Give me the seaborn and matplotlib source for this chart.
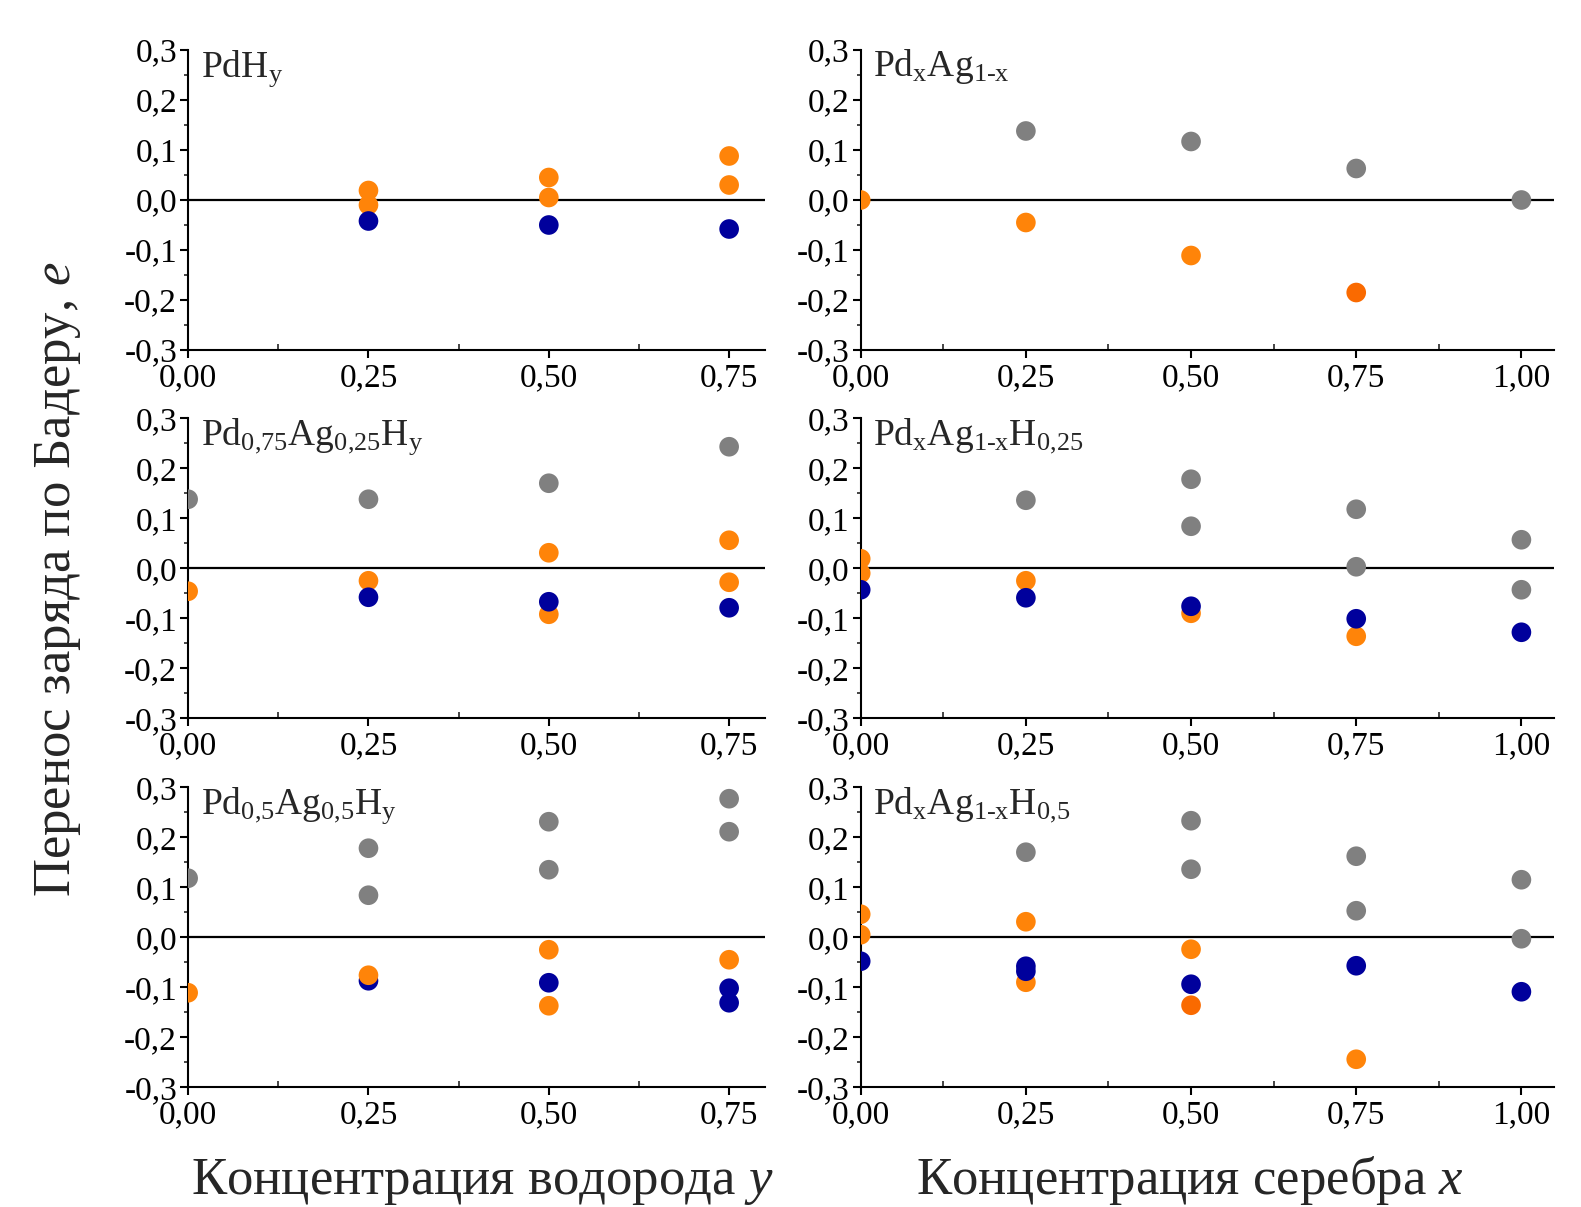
import numpy as np
import pandas as pd
import seaborn as sns
import matplotlib.pyplot as plt
from matplotlib.ticker import MultipleLocator

sns.set_theme(style="ticks")
plt.rcParams['font.family'] = ['Liberation Serif', 'DejaVu Serif']
plt.rcParams['mathtext.fontset'] = 'custom'
plt.rcParams['mathtext.rm'] = 'Liberation Serif'
plt.rcParams['mathtext.it'] = 'Liberation Serif:italic'

# colours of the atoms
palette = {"Ag": "#808080", "Pd": "#FF8409", "Pd2": "#FA6A00", "H": "#00009C"}

# PdH_y
pdh_x = [0.25, 0.25, 0.50, 0.50, 0.75, 0.75, 0.25, 0.50, 0.75]
pdh_q = [0.019, -0.010, 0.045, 0.005, 0.088, 0.030, -0.042, -0.050, -0.058]
pdh_atom = ["Pd"] * 6 + ["H"] * 3

# Pd_xAg_1-x
pdag_x = [0.25, 0.50, 0.75, 1.00, 0.00, 0.25, 0.50, 0.75]
pdag_q = [0.138, 0.117, 0.063, 0.000, 0.000, -0.045, -0.111, -0.185]
pdag_atom = ["Ag"] * 4 + ["Pd"] * 3 + ["Pd2"]

# Pd0.75Ag0.25H_y
pd75_x = [0.00, 0.25, 0.50, 0.75,
          0.00, 0.25, 0.50, 0.50, 0.75, 0.75,
          0.25, 0.50, 0.75]
pd75_q = [0.138, 0.138, 0.170, 0.243,
          -0.046, -0.025, 0.031, -0.092, 0.056, -0.028,
          -0.058, -0.067, -0.079]
pd75_atom = ["Ag"] * 4 + ["Pd"] * 6 + ["H"] * 3

# Pd_xAg_1-xH0.25
h25_x = [0.25, 0.50, 0.50, 0.75, 0.75, 1.00, 1.00,
         0.00, 0.00, 0.25, 0.50, 0.75,
         0.00, 0.25, 0.50, 0.75, 1.00]
h25_q = [0.136, 0.178, 0.084, 0.118, 0.003, 0.057, -0.043,
         0.019, -0.010, -0.025, -0.090, -0.136,
         -0.043, -0.059, -0.076, -0.101, -0.128]
h25_atom = ["Ag"] * 7 + ["Pd"] * 5 + ["H"] * 5

# Pd0.5Ag0.5H_y
pd50_x = [0.00, 0.25, 0.25, 0.50, 0.50, 0.75, 0.75,
          0.25,
          0.00, 0.25, 0.50, 0.50, 0.75,
          0.50, 0.75, 0.75]
pd50_q = [0.118, 0.178, 0.084, 0.231, 0.135, 0.277, 0.211,
          -0.087,
          -0.111, -0.076, -0.025, -0.137, -0.045,
          -0.091, -0.102, -0.131]
pd50_atom = ["Ag"] * 7 + ["H"] + ["Pd"] * 5 + ["H"] * 3

# Pd_xAg_1-xH0.5
h50_x = [0.25, 0.50, 0.50, 0.75, 0.75, 1.00, 1.00,
         0.00, 0.00, 0.25, 0.25, 0.50, 0.75, 0.50,
         0.00, 0.25, 0.25, 0.50, 0.75, 1.00]
h50_q = [0.170, 0.233, 0.136, 0.162, 0.053, 0.115, -0.003,
         0.046, 0.005, 0.031, -0.090, -0.024, -0.244, -0.136,
         -0.048, -0.058, -0.068, -0.094, -0.057, -0.109]
h50_atom = ["Ag"] * 7 + ["Pd"] * 6 + ["Pd2"] + ["H"] * 6

titles = [r"PdH$_\mathrm{y}$",
          r"Pd$_\mathrm{x}$Ag$_\mathrm{1\text{-}x}$",
          r"Pd$_\mathrm{0{,}75}$Ag$_\mathrm{0{,}25}$H$_\mathrm{y}$",
          r"Pd$_\mathrm{x}$Ag$_\mathrm{1\text{-}x}$H$_\mathrm{0{,}25}$",
          r"Pd$_\mathrm{0{,}5}$Ag$_\mathrm{0{,}5}$H$_\mathrm{y}$",
          r"Pd$_\mathrm{x}$Ag$_\mathrm{1\text{-}x}$H$_\mathrm{0{,}5}$"]

y_ticks = [-0.3, -0.2, -0.1, 0.0, 0.1, 0.2, 0.3]
y_labels = ["-0,3", "-0,2", "-0,1", "0,0", "0,1", "0,2", "0,3"]
xh_ticks = [0.00, 0.25, 0.50, 0.75]
xh_labels = ["0,00", "0,25", "0,50", "0,75"]
xag_ticks = [0.00, 0.25, 0.50, 0.75, 1.00]
xag_labels = ["0,00", "0,25", "0,50", "0,75", "1,00"]

panels = [(pdh_x, pdh_q, pdh_atom), (pdag_x, pdag_q, pdag_atom),
          (pd75_x, pd75_q, pd75_atom), (h25_x, h25_q, h25_atom),
          (pd50_x, pd50_q, pd50_atom), (h50_x, h50_q, h50_atom)]

fig = plt.figure(figsize=(15.81, 12.07), dpi=100)

lefts = [0.119, 0.5444]
widths = [0.365, 0.4388]
bottoms = [0.7100, 0.4049, 0.0992]
height = 0.2486

for i, (xs, qs, atoms) in enumerate(panels):
    row, col = divmod(i, 2)
    ax = fig.add_axes([lefts[col], bottoms[row], widths[col], height])
    df = pd.DataFrame({"x": xs, "q": qs, "atom": atoms})
    ax.axhline(0, color="black", lw=1.6, zorder=1)
    sns.scatterplot(data=df, x="x", y="q", hue="atom", palette=palette,
                    s=200, linewidth=0, legend=False, ax=ax, zorder=3)
    ax.set_ylim(-0.3, 0.3)
    ax.set_yticks(y_ticks)
    ax.set_yticklabels(y_labels)
    if col == 0:
        ax.set_xlim(0, 0.8)
        ax.set_xticks(xh_ticks)
        ax.set_xticklabels(xh_labels)
    else:
        ax.set_xlim(0, 1.05)
        ax.set_xticks(xag_ticks)
        ax.set_xticklabels(xag_labels)
    ax.yaxis.set_minor_locator(MultipleLocator(0.05))
    ax.xaxis.set_minor_locator(MultipleLocator(0.125))
    ax.set_xlabel("")
    ax.set_ylabel("")
    sns.despine(ax=ax)
    for s in ["left", "bottom"]:
        ax.spines[s].set_linewidth(1.5)
        ax.spines[s].set_color("black")
    ax.tick_params(which="major", direction="out", length=6, width=1.5,
                   labelsize=24, colors="black", pad=2)
    ax.tick_params(axis="x", which="major", pad=3)
    ax.tick_params(axis="y", which="minor", direction="out", length=3, width=1.2)
    ax.tick_params(axis="x", which="minor", direction="in", length=4, width=1.2)
    ax.annotate(titles[i], xy=(0, 1), xycoords="axes fraction",
                xytext=(9, -19), textcoords="offset points",
                fontsize=27, ha="left", va="baseline")

fig.text(0.0364, 0.5206, "Перенос заряда по Бадеру, $e$", rotation=90,
         fontsize=38, ha="center", va="center")
fig.text(0.3053, 0.0105, "Концентрация водорода $y$", fontsize=38,
         ha="center", va="baseline")
fig.text(0.7526, 0.0105, "Концентрация серебра $x$", fontsize=38,
         ha="center", va="baseline")

fig.savefig("out.png", dpi=100, facecolor="white")
